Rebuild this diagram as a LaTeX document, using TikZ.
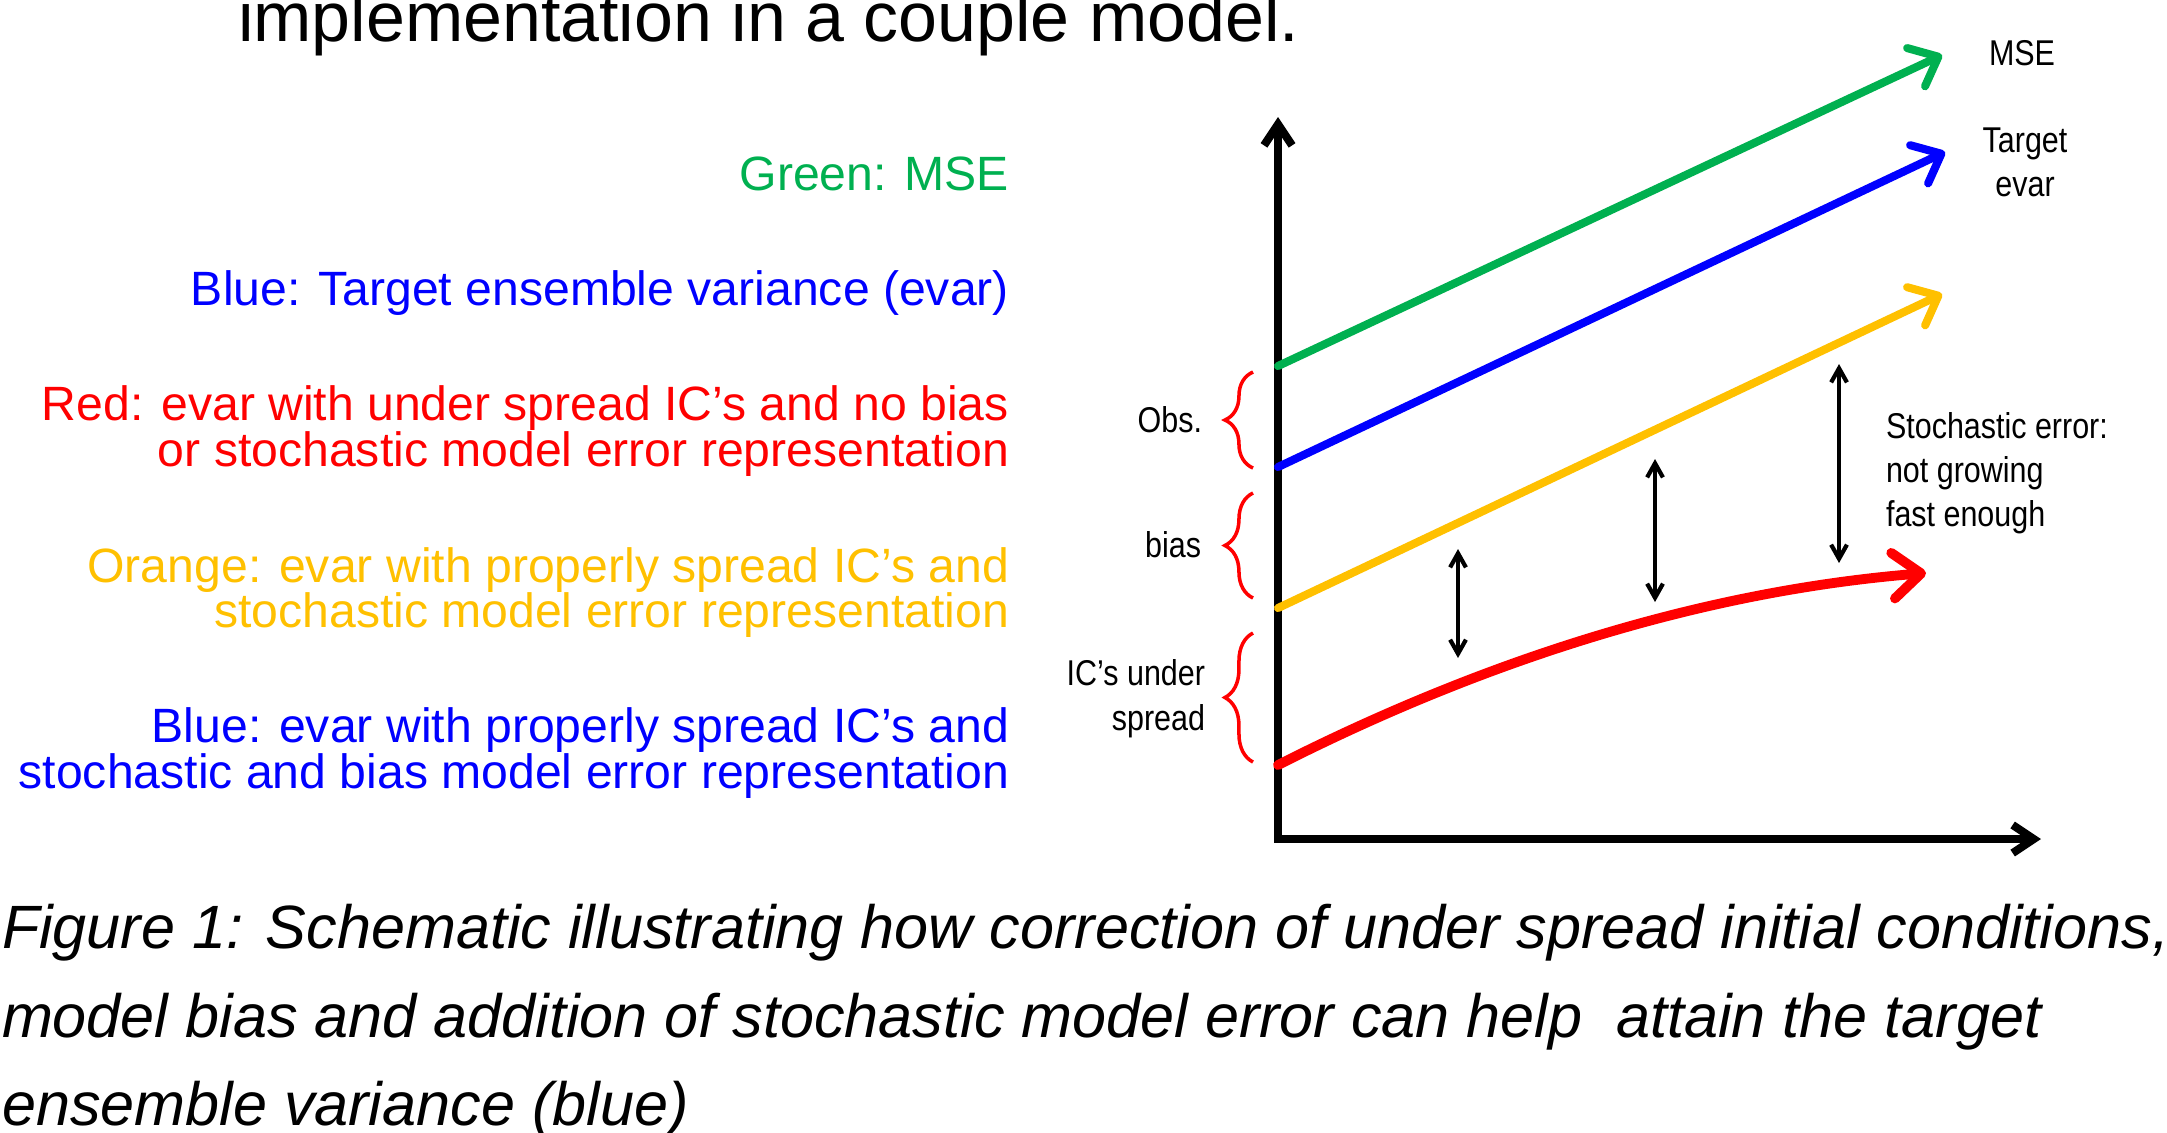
\documentclass[tikz,border=0pt]{standalone}
\usepackage{fontspec}
\setmainfont{Liberation Sans}
\newfontfamily\narrowfont[FakeStretch=0.85]{Liberation Sans}
\usetikzlibrary{arrows.meta,decorations.pathreplacing}
\definecolor{mygreen}{RGB}{0,176,80}
\definecolor{myblue}{RGB}{0,0,255}
\definecolor{myred}{RGB}{255,0,0}
\definecolor{myorange}{RGB}{255,192,0}
\begin{document}
\begin{tikzpicture}[x=0.1mm,y=-0.1mm,
  txt/.style={inner sep=0pt, outer sep=0pt},
  titletxt/.style={txt, anchor=base west, font=\fontsize{19.9}{22}\selectfont},
  legend/.style={txt, anchor=base east, font=\fontsize{13.7}{16}\selectfont},
  lbl/.style={txt, font=\narrowfont\fontsize{10.2}{12}\selectfont},
  captxt/.style={txt, anchor=base west, font=\fontsize{17.4}{20}\selectfont\itshape},
  axisline/.style={line width=2.3pt, {Straight Barb[length=6pt,width=8pt]}-{Straight Barb[length=6pt,width=8pt]}},
  series/.style={line width=2.3pt, line cap=round, -{Straight Barb[round,length=7pt,width=12pt]}},
  dbl/.style={line width=1.2pt, {Straight Barb[length=4pt,width=4.5pt]}-{Straight Barb[length=4pt,width=4.5pt]}},
  brc/.style={draw=myred, line width=1pt, decorate, decoration={brace, amplitude=8pt}},
]
\useasboundingbox (0,0) rectangle (2167,1132);

% title
\node[titletxt] (title) at (238,41) {implementation in a couple model.};

% legend
\node[legend, text=mygreen] (lg1) at (1009,190) {Green: MSE};
\node[legend, text=myblue] (lg2) at (1009,305) {Blue: Target ensemble variance (evar)};
\node[legend, text=myred] (lg3a) at (1009,420) {Red: evar with under spread IC’s and no bias};
\node[legend, text=myred] (lg3b) at (1009,466) {or stochastic model error representation};
\node[legend, text=myorange] (lg4a) at (1009,582) {Orange: evar with properly spread IC’s and};
\node[legend, text=myorange] (lg4b) at (1009,627) {stochastic model error representation};
\node[legend, text=myblue] (lg5a) at (1009,742) {Blue: evar with properly spread IC’s and};
\node[legend, text=myblue] (lg5b) at (1009,788) {stochastic and bias model error representation};

% axes
\coordinate (O) at (1278,839);
\coordinate (ytip) at (1278,117);
\coordinate (xtip) at (2041,839);
\draw[axisline] (ytip) -- (O) -- (xtip);

% series
\coordinate (g0) at (1278,366); \coordinate (g1) at (1942,55);
\coordinate (b0) at (1278,467); \coordinate (b1) at (1945,152);
\coordinate (o0) at (1278,608); \coordinate (o1) at (1942,294);
\coordinate (r0) at (1278,765); \coordinate (r1) at (1926,573);
\draw[series, draw=mygreen] (g0) -- (g1);
\draw[series, draw=myblue] (b0) -- (b1);
\draw[series, draw=myorange] (o0) -- (o1);
\draw[draw=myred, line width=2.8pt, line cap=round, -{Straight Barb[round,length=8pt,width=13pt]}]
  (r0) .. controls (1499,653) and (1715,590) .. (r1);

% series labels
\node[lbl, anchor=base] (mse) at (2022,65) {MSE};
\node[lbl, anchor=base] (tgt1) at (2025,152) {Target};
\node[lbl, anchor=base] (tgt2) at (2025,196) {evar};

% double arrows
\coordinate (d1a) at (1458,549); \coordinate (d1b) at (1458,658);
\coordinate (d2a) at (1655,459); \coordinate (d2b) at (1655,602);
\coordinate (d3a) at (1839,364); \coordinate (d3b) at (1839,563);
\draw[dbl] (d1a) -- (d1b);
\draw[dbl] (d2a) -- (d2b);
\draw[dbl] (d3a) -- (d3b);

\node[lbl, anchor=base west] (st1) at (1886,438) {Stochastic error:};
\node[lbl, anchor=base west] (st2) at (1886,482) {not growing};
\node[lbl, anchor=base west] (st3) at (1886,526) {fast enough};

% braces
\coordinate (br1a) at (1253,468); \coordinate (br1b) at (1253,372);
\coordinate (br2a) at (1253,598); \coordinate (br2b) at (1253,493);
\coordinate (br3a) at (1253,762); \coordinate (br3b) at (1253,633);
\draw[brc] (br1a) -- (br1b);
\draw[brc] (br2a) -- (br2b);
\draw[brc] (br3a) -- (br3b);
\node[lbl, anchor=base east] (obs) at (1202,432) {Obs.};
\node[lbl, anchor=base east] (bias) at (1201,557) {bias};
\node[lbl, anchor=base east] (ic1) at (1205,685) {IC’s under};
\node[lbl, anchor=base east] (ic2) at (1205,730) {spread};

% caption
\node[captxt] (cap1) at (2,948) {Figure 1: Schematic illustrating how correction of under spread initial conditions,};
\node[captxt] (cap2) at (2,1037) {model bias and addition of stochastic model error can help\ \ attain the target};
\node[captxt] (cap3) at (2,1125) {ensemble variance (blue)};
\end{tikzpicture}
\end{document}
